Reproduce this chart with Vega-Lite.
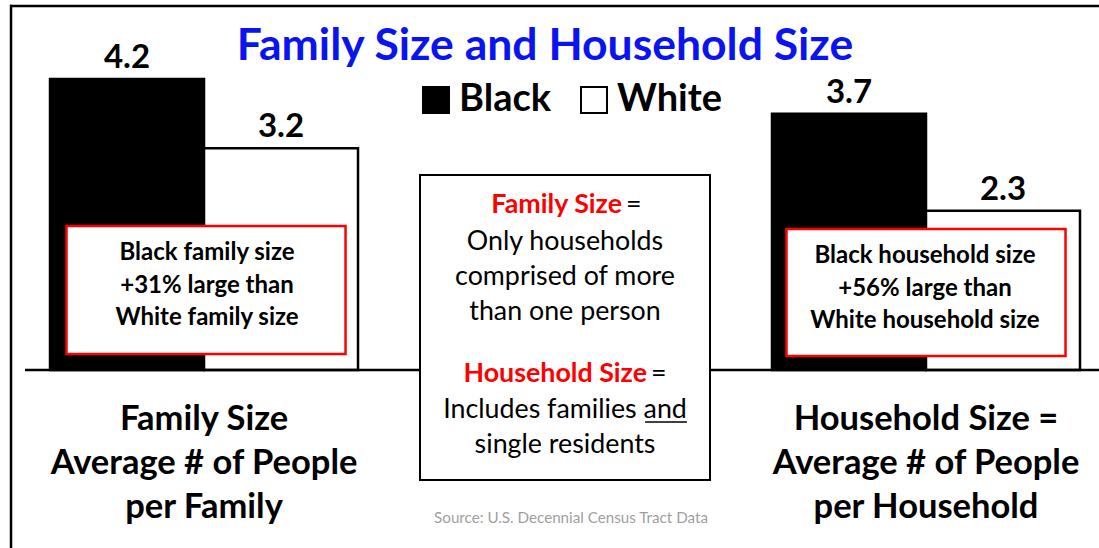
{
  "$schema": "https://vega.github.io/schema/vega-lite/v6.json",
  "width": 1099,
  "height": 548,
  "autosize": {"type": "none"},
  "padding": 0,
  "background": "white",
  "config": {"view": {"stroke": null}, "text": {"font": "Lato"}},
  "layer": [
    {
      "data": {"values": [
        {"measure": "Family", "race": "Black", "value": 4.2},
        {"measure": "Family", "race": "White", "value": 3.2},
        {"measure": "Household", "race": "Black", "value": 3.7},
        {"measure": "Household", "race": "White", "value": 2.3}
      ]},
      "layer": [
        {
          "mark": {"type": "bar", "stroke": "black", "strokeWidth": 2.5},
          "encoding": {
            "color": {
              "field": "race", "type": "nominal",
              "scale": {"domain": ["Black", "White"], "range": ["black", "white"]},
              "legend": {
                "orient": "none", "legendX": 417, "legendY": 81, "direction": "horizontal",
                "title": null, "symbolType": "square", "symbolSize": 676,
                "symbolStrokeColor": "black", "symbolStrokeWidth": 2, "symbolOpacity": 1,
                "labelFont": "Lato", "labelFontSize": 38, "labelFontWeight": "bold",
                "labelColor": "black", "labelOffset": 4, "columnPadding": 23, "labelLimit": 300
              }
            }
          }
        },
        {
          "mark": {"type": "text", "font": "Lato", "fontWeight": "bold", "fontSize": 33, "baseline": "alphabetic", "dy": -11, "color": "black"},
          "encoding": {"text": {"field": "value", "type": "quantitative", "format": ".1f"}}
        }
      ],
      "encoding": {
        "x": {
          "field": "measure", "type": "nominal", "axis": null,
          "scale": {"domain": ["Family", "Middle", "Household"], "paddingInner": 0.1468, "paddingOuter": 0.0956, "align": 0.7246}
        },
        "xOffset": {"field": "race", "type": "nominal", "scale": {"domain": ["Black", "White"], "paddingInner": 0, "paddingOuter": 0}},
        "y": {
          "field": "value", "type": "quantitative", "axis": null,
          "scale": {"domain": [-2.569, 5.34], "nice": false, "zero": false}
        }
      }
    },
    {
      "data": {"values": [{}]},
      "mark": {"type": "bar", "fill": "black", "width": {"band": 3.487}, "xOffset": -3},
      "encoding": {
        "x": {"datum": "Middle", "type": "nominal"},
        "y": {"datum": 0.018, "type": "quantitative"},
        "y2": {"datum": -0.018}
      }
    },
    {
      "data": {"values": [{}]},
      "mark": {"type": "bar", "fill": "white", "stroke": "#ff0000", "strokeWidth": 2.5, "width": {"band": 0.906}, "xOffset": 2},
      "encoding": {
        "x": {"datum": "Family", "type": "nominal"},
        "y": {"datum": 2.078, "type": "quantitative"},
        "y2": {"datum": 0.231}
      }
    },
    {
      "data": {"values": [{}]},
      "mark": {"type": "bar", "fill": "white", "stroke": "#ff0000", "strokeWidth": 2.5, "width": {"band": 0.906}},
      "encoding": {
        "x": {"datum": "Household", "type": "nominal"},
        "y": {"datum": 2.035, "type": "quantitative"},
        "y2": {"datum": 0.202}
      }
    },
    {
      "data": {"values": [{}]},
      "mark": {"type": "bar", "fill": "white", "stroke": "black", "strokeWidth": 2, "width": {"band": 0.9416}},
      "encoding": {
        "x": {"datum": "Middle", "type": "nominal"},
        "y": {"datum": 2.814, "type": "quantitative"},
        "y2": {"datum": -1.5875}
      }
    },
    {
      "data": {"values": [{}]},
      "mark": {"type": "text", "text": "Family Size and Household Size", "font": "Lato", "fontWeight": "bold", "fontSize": 44.5, "color": "#0a14f0", "align": "center", "baseline": "alphabetic", "dx": -20},
      "encoding": {"x": {"datum": "Middle", "type": "nominal"}, "y": {"datum": 4.474, "type": "quantitative"}}
    },
    {
      "data": {"values": [{}]},
      "mark": {"type": "text", "text": ["Family Size", "Average # of People", "per Family"], "font": "Lato", "fontWeight": "bold", "fontSize": 34.5, "lineHeight": 44, "color": "black", "align": "center", "baseline": "alphabetic"},
      "encoding": {"x": {"datum": "Family", "type": "nominal"}, "y": {"datum": -0.866, "type": "quantitative"}}
    },
    {
      "data": {"values": [{}]},
      "mark": {"type": "text", "text": ["Household Size =", "Average # of People", "per Household"], "font": "Lato", "fontWeight": "bold", "fontSize": 34.5, "lineHeight": 44, "color": "black", "align": "center", "baseline": "alphabetic"},
      "encoding": {"x": {"datum": "Household", "type": "nominal"}, "y": {"datum": -0.866, "type": "quantitative"}}
    },
    {
      "data": {"values": [{}]},
      "mark": {"type": "text", "text": ["Black family size", "+31% large than", "White family size"], "font": "Lato", "fontWeight": "bold", "fontSize": 24, "lineHeight": 32.5, "color": "black", "align": "center", "baseline": "alphabetic", "dx": 3},
      "encoding": {"x": {"datum": "Family", "type": "nominal"}, "y": {"datum": 1.5875, "type": "quantitative"}}
    },
    {
      "data": {"values": [{}]},
      "mark": {"type": "text", "text": ["Black household size", "+56% large than", "White household size"], "font": "Lato", "fontWeight": "bold", "fontSize": 24, "lineHeight": 32.5, "color": "black", "align": "center", "baseline": "alphabetic", "dx": -1},
      "encoding": {"x": {"datum": "Household", "type": "nominal"}, "y": {"datum": 1.544, "type": "quantitative"}}
    },
    {
      "data": {"values": [{}]},
      "mark": {"type": "text", "text": "Family Size", "font": "Lato", "fontWeight": "bold", "fontSize": 26.8, "color": "#ff0000", "align": "right", "baseline": "alphabetic", "dx": 57},
      "encoding": {"x": {"datum": "Middle", "type": "nominal"}, "y": {"datum": 2.266, "type": "quantitative"}}
    },
    {
      "data": {"values": [{}]},
      "mark": {"type": "text", "text": "=", "font": "Lato", "fontSize": 26.8, "color": "black", "align": "left", "baseline": "alphabetic", "dx": 61},
      "encoding": {"x": {"datum": "Middle", "type": "nominal"}, "y": {"datum": 2.266, "type": "quantitative"}}
    },
    {
      "data": {"values": [{}]},
      "mark": {"type": "text", "text": ["Only households", "comprised of more", "than one person"], "font": "Lato", "fontSize": 26.8, "lineHeight": 35, "color": "black", "align": "center", "baseline": "alphabetic"},
      "encoding": {"x": {"datum": "Middle", "type": "nominal"}, "y": {"datum": 1.732, "type": "quantitative"}}
    },
    {
      "data": {"values": [{}]},
      "mark": {"type": "text", "text": "Household Size", "font": "Lato", "fontWeight": "bold", "fontSize": 26.8, "color": "#ff0000", "align": "right", "baseline": "alphabetic", "dx": 82},
      "encoding": {"x": {"datum": "Middle", "type": "nominal"}, "y": {"datum": -0.173, "type": "quantitative"}}
    },
    {
      "data": {"values": [{}]},
      "mark": {"type": "text", "text": "=", "font": "Lato", "fontSize": 26.8, "color": "black", "align": "left", "baseline": "alphabetic", "dx": 86},
      "encoding": {"x": {"datum": "Middle", "type": "nominal"}, "y": {"datum": -0.173, "type": "quantitative"}}
    },
    {
      "data": {"values": [{}]},
      "mark": {"type": "text", "text": ["Includes families and", "single residents"], "font": "Lato", "fontSize": 26.8, "lineHeight": 35, "color": "black", "align": "center", "baseline": "alphabetic"},
      "encoding": {"x": {"datum": "Middle", "type": "nominal"}, "y": {"datum": -0.693, "type": "quantitative"}}
    },
    {
      "data": {"values": [{}]},
      "mark": {"type": "bar", "fill": "black", "width": {"band": 0.136}, "xOffset": 101},
      "encoding": {
        "x": {"datum": "Middle", "type": "nominal"},
        "y": {"datum": -0.741, "type": "quantitative"},
        "y2": {"datum": -0.762}
      }
    },
    {
      "data": {"values": [{}]},
      "mark": {"type": "text", "text": "Source: U.S. Decennial Census Tract Data", "font": "Lato", "fontSize": 15.2, "color": "#a0a0a0", "align": "center", "baseline": "alphabetic", "dx": 6},
      "encoding": {"x": {"datum": "Middle", "type": "nominal"}, "y": {"datum": -2.208, "type": "quantitative"}}
    },
    {
      "data": {"values": [{}]},
      "mark": {"type": "bar", "fill": "black", "width": {"band": 3.5357}, "xOffset": -10.5},
      "encoding": {
        "x": {"datum": "Middle", "type": "nominal"},
        "y": {"datum": 5.271, "type": "quantitative"},
        "y2": {"datum": 5.235}
      }
    },
    {
      "data": {"values": [{}]},
      "mark": {"type": "bar", "fill": "black", "width": {"band": 0.0081}, "xOffset": -193},
      "encoding": {
        "x": {"datum": "Family", "type": "nominal"},
        "y": {"datum": 5.271, "type": "quantitative"},
        "y2": {"datum": -2.569}
      }
    }
  ]
}
